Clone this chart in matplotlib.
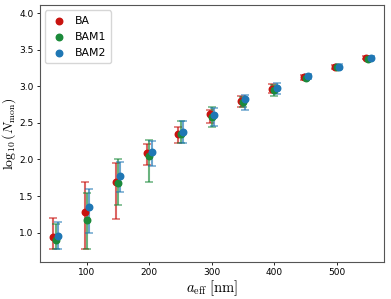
import numpy as np
from matplotlib import pyplot as plt

plt.rcParams.update({'mathtext.fontset': 'cm'})

a_eff = np.array([50, 100, 150, 200, 250, 300, 350, 400, 450, 500, 550])

# log10(N_mon) with lower / upper error bar ends
ba = [0.94, 1.28, 1.69, 2.09, 2.35, 2.62, 2.80, 2.97, 3.13, 3.26, 3.39]
ba_lo = [0.78, 0.78, 1.18, 1.92, 2.22, 2.50, 2.72, 2.91, 3.09, 3.23, 3.37]
ba_hi = [1.20, 1.69, 1.95, 2.21, 2.45, 2.68, 2.87, 3.03, 3.16, 3.29, 3.41]

bam1 = [0.895, 1.17, 1.68, 2.05, 2.35, 2.58, 2.79, 2.95, 3.11, 3.26, 3.38]
bam1_lo = [0.78, 0.78, 1.38, 1.69, 2.23, 2.45, 2.72, 2.87, 3.08, 3.23, 3.36]
bam1_hi = [1.12, 1.54, 2.01, 2.26, 2.53, 2.72, 2.86, 3.02, 3.15, 3.29, 3.40]

bam2 = [0.95, 1.35, 1.77, 2.10, 2.38, 2.61, 2.82, 2.98, 3.14, 3.27, 3.39]
bam2_lo = [0.78, 1.00, 1.56, 1.91, 2.23, 2.46, 2.67, 2.90, 3.10, 3.24, 3.37]
bam2_hi = [1.14, 1.60, 1.96, 2.25, 2.52, 2.70, 2.88, 3.04, 3.17, 3.30, 3.41]

series = [
    ("BA", ba, ba_lo, ba_hi, '#c8130f', -3.5),
    ("BAM1", bam1, bam1_lo, bam1_hi, '#1b8a3a', 0.0),
    ("BAM2", bam2, bam2_lo, bam2_hi, '#1f77b4', 3.5),
]

fig = plt.figure(figsize=(3.91, 2.99), dpi=100)
ax = fig.add_axes([0.102, 0.124, 0.880, 0.859])

for name, y, lo, hi, color, dx in series:
    y = np.array(y)
    yerr = [y - np.array(lo), np.array(hi) - y]
    ax.errorbar(a_eff + dx, y, yerr=yerr, fmt='none', ecolor=color,
                elinewidth=1.5, capsize=2.8, capthick=1.1, alpha=0.65)
    ax.scatter(a_eff + dx, y, s=22, color=color, label=name, zorder=3)

ax.set_xlim(25, 575)
ax.set_ylim(0.6, 4.11)
ax.set_xticks([100, 200, 300, 400, 500])
ax.set_yticks([1.0, 1.5, 2.0, 2.5, 3.0, 3.5, 4.0])
ax.tick_params(labelsize=6.5, length=2.5, width=0.6, pad=2)
for s in ax.spines.values():
    s.set_linewidth(0.8)
    s.set_color('#555555')

ax.set_xlabel(r"$a_{\rm eff}\ [\rm nm]$", fontsize=10.5, labelpad=1)
ax.set_ylabel(r"$\log_{10}(N_{\rm mon})$", fontsize=10, labelpad=1)
ax.legend(loc='upper left', fontsize=7.8, handletextpad=0.6, handlelength=1.6,
          borderpad=0.5, labelspacing=0.55)

fig.savefig("out.png", dpi=100)
